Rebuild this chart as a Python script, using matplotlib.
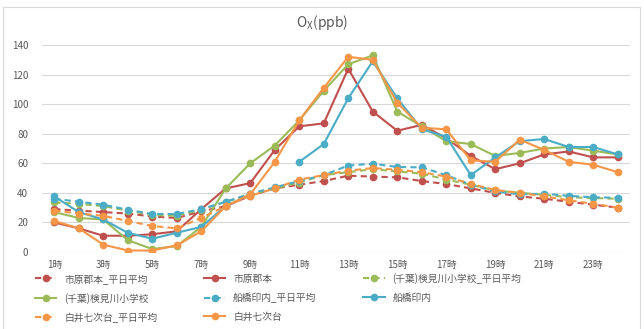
import numpy as np
import matplotlib.pyplot as plt
from matplotlib.patches import Rectangle

plt.rcParams['font.family'] = ['Noto Sans CJK JP', 'DejaVu Sans']

hours = list(range(1, 25))
tick_hours = list(range(1, 25, 2))
tick_labels = [f"{h}時" for h in tick_hours]

# 平日平均 (dashed)
ichihara_avg = [29, 28, 27, 26, 24, 23, 27.5, 31, 38, 43, 45.5, 48, 51.6, 51, 50.5, 48,
                46, 43, 40, 37.6, 36, 34, 32, 30]
kemigawa_avg = [33.5, 32.6, 31, 28, 25, 24.5, 28.6, 34, 38.7, 43, 47, 52, 54, 56, 54.5, 53,
                49, 45.5, 41.6, 40, 38.7, 37, 36.5, 36]
funabashi_avg = [36, 34, 32, 28.6, 25.7, 25.7, 29, 34, 39.4, 43.7, 48, 52, 58.5, 59.7, 57.5, 57.2,
                 52, 45.5, 41, 39, 39.4, 38, 37, 36.7]
shiroi_avg = [28, 26, 24.5, 21, 17.6, 16, 23, 31, 38, 43, 49, 52, 55, 56.8, 55.6, 54,
              51, 46, 42, 40, 37.6, 35, 32.6, 30]

# 当日 (solid)
ichihara = [20, 16, 11, 11, 12, 14, 29, 43, 46.6, 69, 85, 87, 124, 95, 82, 86,
            77, 65, 56, 60, 66, 68, 64, 64]
kemigawa = [27, 23, 22, 8, 2, 4, 17, 43, 60, 72, 89, 109, 127, 133, 95, 85,
            75, 73, 65, 67, 70, 71, 68.5, 66]
funabashi = [37.6, 27, 22, 13, 9, 13, 17, 31, 39, np.nan, 61, 73, 104, 129, 104, 83,
             78, 52, 64, 75, 76.4, 71, 71, 66]
shiroi = [21, 16, 5, 1, 1, 4.5, 14, 31, 39, 61, 89, 111, 132, 130, 101, 84,
          83, 62, 61, 76, 69, 61, 59, 54]

red = '#C0504D'
green = '#9BBB59'
blue = '#4BACC6'
orange = '#F79646'

fig = plt.figure(figsize=(6.44, 3.29), dpi=100)
ax = fig.add_axes([42 / 644, 1 - 252 / 329, 588 / 644, 207 / 329])

series = [
    ('市原郡本_平日平均', ichihara_avg, red, '--'),
    ('市原郡本', ichihara, red, '-'),
    ('(千葉)検見川小学校_平日平均', kemigawa_avg, green, '--'),
    ('(千葉)検見川小学校', kemigawa, green, '-'),
    ('船橋印内_平日平均', funabashi_avg, blue, '--'),
    ('船橋印内', funabashi, blue, '-'),
    ('白井七次台_平日平均', shiroi_avg, orange, '--'),
    ('白井七次台', shiroi, orange, '-'),
]

handles = []
for label, vals, c, ls in series:
    h, = ax.plot(hours, vals, color=c, linestyle=ls, linewidth=1.5,
                 marker='o', markersize=4.5, label=label,
                 dashes=(3, 2) if ls == '--' else (None, None))
    handles.append(h)

ax.set_xlim(0.5, 24.5)
ax.set_ylim(0, 140)
ax.set_yticks(range(0, 141, 20))
ax.set_xticks(tick_hours)
ax.set_xticklabels(tick_labels)
ax.tick_params(length=0, labelsize=7, colors='#595959')
ax.tick_params(axis='x', pad=6)
ax.tick_params(axis='y', pad=10)
ax.grid(axis='y', color='#D9D9D9', linewidth=0.8)
ax.set_axisbelow(True)
for s in ax.spines.values():
    s.set_visible(False)

fig.text(0.5, 1 - 22 / 329, 'O$_{\\mathregular{X}}$(ppb)', ha='center', va='center',
         fontsize=10, color='#595959')

order = [0, 3, 6, 1, 4, 7, 2, 5]
leg = fig.legend([handles[i] for i in order], [series[i][0] for i in order],
                 loc='upper left', bbox_to_anchor=(35 / 644, 1 - 273 / 329),
                 ncol=3, frameon=False, fontsize=7, handlelength=2.2,
                 handletextpad=0.8, columnspacing=4.8, labelspacing=0.9,
                 borderaxespad=0, borderpad=0)
for t in leg.get_texts():
    t.set_color('#595959')

fig.patches.append(Rectangle((3 / 644, -0.1), 637 / 644, 1.1 - 7 / 329,
                             transform=fig.transFigure, fill=False,
                             edgecolor='#D9D9D9', linewidth=0.8))

fig.savefig('out.png', dpi=100)
